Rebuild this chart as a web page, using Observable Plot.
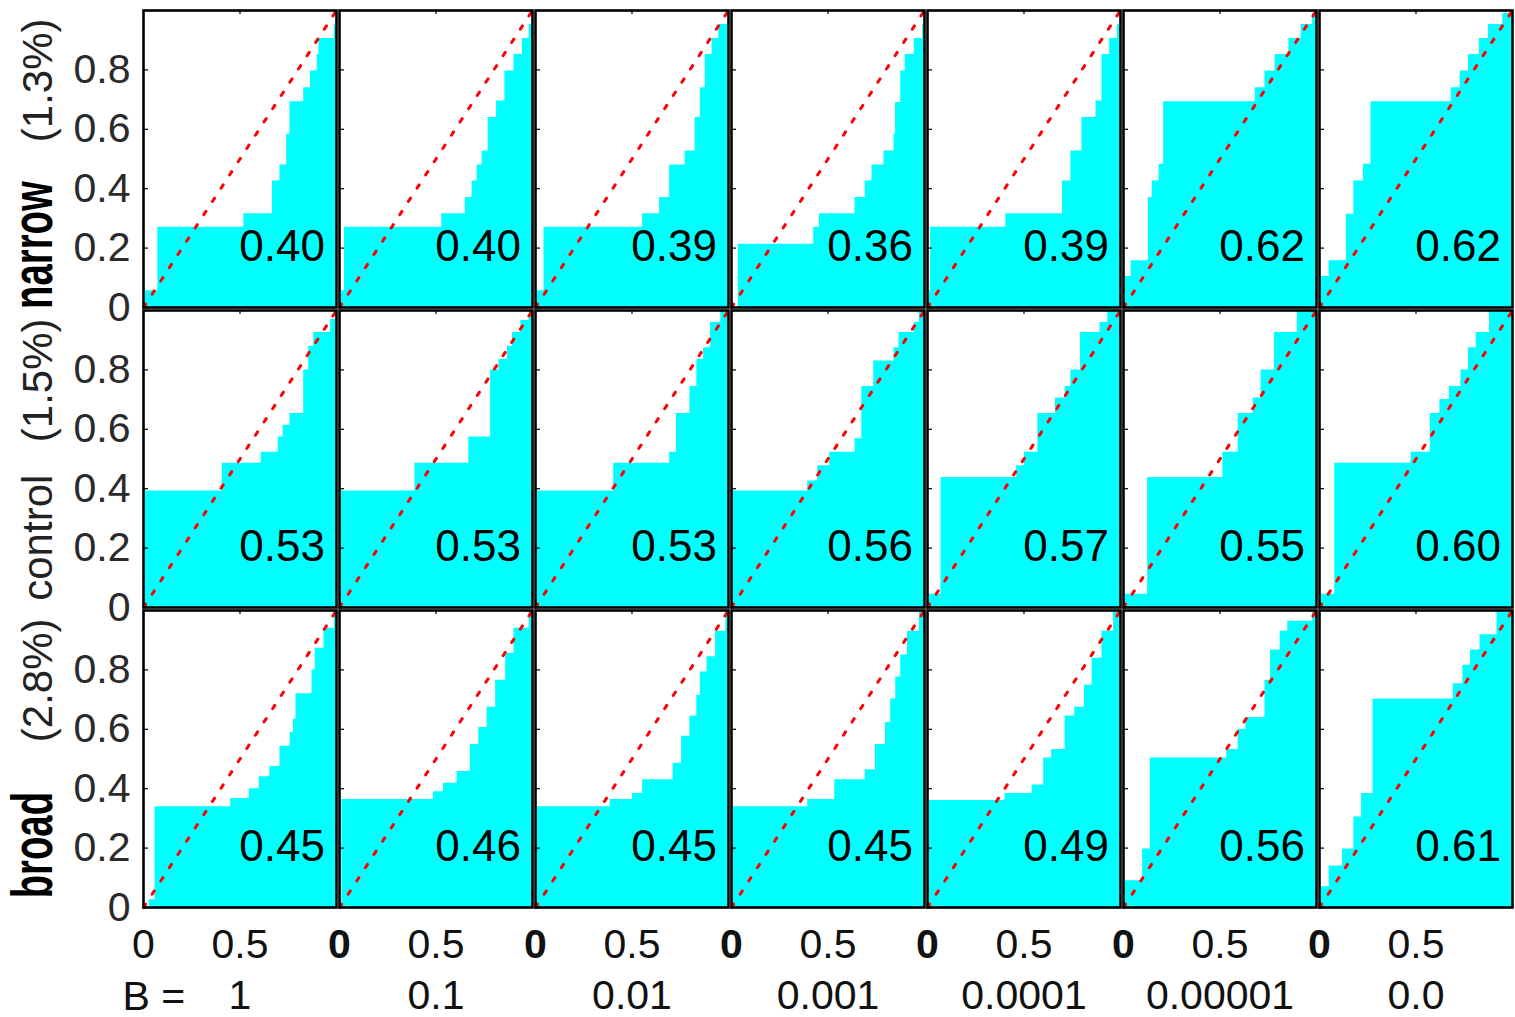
<!DOCTYPE html>
<html><head><meta charset="utf-8">
<script src="https://cdn.jsdelivr.net/npm/d3@7"></script>
<script src="https://cdn.jsdelivr.net/npm/@observablehq/plot@0.6"></script>
<style>body{margin:0;background:#fff} #chart svg{display:block}</style>
</head><body><div id="chart"></div>
<script>
// ---- data ----
const rowNames = ["narrow", "control", "broad"];
const rowPcts = ["(1.3%)", "(1.5%)", "(2.8%)"];
const bLabels = ["1", "0.1", "0.01", "0.001", "0.0001", "0.00001", "0.0"];
const aucNarrow = [0.40, 0.40, 0.39, 0.36, 0.39, 0.62, 0.62];
const aucControl = [0.53, 0.53, 0.53, 0.56, 0.57, 0.55, 0.60];
const aucBroad = [0.45, 0.46, 0.45, 0.45, 0.49, 0.56, 0.61];
const yTicks = [0, 0.2, 0.4, 0.6, 0.8];
const xTicks = [0, 0.5];
const diagonal = [[0, 0], [1, 1]];

// step curves: [x where step starts, y level]
const narrowCurves = [
  [[0,.056],[.074,.27],[.52,.316],[.668,.426],[.707,.48],[.742,.583],[.759,.693],[.83,.74],[.865,.796],[.90,.852],[.909,.906],[.988,.953],[1,1]],
  [[0,.056],[.026,.27],[.53,.316],[.652,.37],[.687,.426],[.713,.48],[.739,.527],[.77,.64],[.814,.695],[.857,.796],[.904,.852],[.948,.906],[.983,.953],[1,1]],
  [[0,.056],[.044,.27],[.555,.316],[.643,.37],[.695,.48],[.775,.527],[.827,.64],[.854,.74],[.88,.852],[.915,.906],[.95,.953],[1,1]],
  [[0,0],[.035,.213],[.426,.27],[.456,.316],[.64,.37],[.693,.426],[.728,.48],[.79,.527],[.842,.583],[.85,.69],[.877,.796],[.90,.852],[.947,.906],[.99,.953],[1,1]],
  [[0,.056],[.016,.27],[.406,.316],[.699,.426],[.743,.527],[.80,.64],[.873,.695],[.904,.852],[.944,.906],[.984,.953],[1,1]],
  [[0,.104],[.04,.157],[.129,.37],[.149,.426],[.184,.482],[.208,.693],[.683,.74],[.733,.796],[.786,.852],[.857,.906],[.921,.953],[.98,.99],[1,1]],
  [[0,.104],[.05,.157],[.139,.314],[.178,.426],[.228,.482],[.267,.693],[.683,.74],[.729,.796],[.772,.852],[.828,.906],[.875,.953],[.95,.99],[1,1]]
];
const controlCurves = [
  [[0,.392],[.408,.486],[.61,.523],[.698,.574],[.724,.614],[.759,.653],[.83,.80],[.856,.88],[.882,.926],[.97,.97],[1,1]],
  [[0,.392],[.391,.486],[.67,.574],[.783,.80],[.826,.835],[.87,.88],[.896,.926],[.94,.966],[.983,1],[1,1]],
  [[0,.392],[.405,.486],[.695,.523],[.73,.653],[.80,.744],[.836,.835],[.871,.875],[.907,.96],[.96,1],[1,1]],
  [[0,.392],[.395,.426],[.447,.477],[.509,.523],[.64,.568],[.675,.744],[.737,.83],[.842,.875],[.868,.926],[.947,.96],[.974,1],[1,1]],
  [[0,.045],[.07,.4375],[.462,.477],[.502,.523],[.572,.653],[.663,.705],[.713,.744],[.743,.80],[.793,.926],[.894,.96],[.934,1],[1,1]],
  [[0,.045],[.125,.4375],[.515,.523],[.594,.653],[.673,.705],[.713,.80],[.782,.926],[.901,1],[1,1]],
  [[0,.045],[.079,.486],[.475,.523],[.574,.653],[.624,.70],[.673,.744],[.733,.80],[.772,.875],[.812,.926],[.881,1],[1,1]]
];
const broadCurves = [
  [[0,0],[.03,.026],[.06,.339],[.452,.367],[.548,.40],[.60,.44],[.655,.475],[.707,.543],[.76,.589],[.777,.634],[.79,.72],[.873,.80],[.89,.873],[.935,.94],[.988,1],[1,1]],
  [[0,0],[.012,.364],[.487,.39],[.539,.418],[.609,.458],[.678,.549],[.722,.606],[.765,.674],[.809,.765],[.861,.856],[.904,.94],[.983,1],[1,1]],
  [[0,.339],[.387,.364],[.502,.384],[.555,.43],[.713,.486],[.757,.577],[.80,.645],[.836,.714],[.854,.793],[.889,.844],[.933,.93],[.986,1],[1,1]],
  [[0,.339],[.395,.364],[.535,.43],[.693,.464],[.746,.549],[.798,.623],[.825,.702],[.851,.776],[.877,.85],[.912,.93],[.974,1],[1,1]],
  [[0,.36],[.402,.384],[.542,.4125],[.602,.503],[.643,.532],[.713,.645],[.763,.674],[.813,.748],[.853,.839],[.904,.93],[.964,1],[1,1]],
  [[0,.09],[.099,.197],[.139,.503],[.535,.532],[.594,.60],[.634,.64],[.733,.765],[.762,.867],[.812,.93],[.851,.964],[.98,1],[1,1]],
  [[0,.07],[.05,.14],[.119,.197],[.178,.305],[.218,.384],[.277,.702],[.693,.753],[.743,.816],[.782,.867],[.832,.918],[.92,1],[1,1]]
];

// ---- tables built from the arrays ----
const curveSets = [narrowCurves, controlCurves, broadCurves];
const aucSets = [aucNarrow, aucControl, aucBroad];
const steps = [];
curveSets.forEach((set, r) => set.forEach((pts, c) => pts.forEach(([x, y]) =>
  steps.push({row: rowNames[r], B: bLabels[c], x, y}))));
const aucs = [];
aucSets.forEach((vals, r) => vals.forEach((v, c) => aucs.push({row: rowNames[r], B: bLabels[c], v})));
const labels = rowNames.map((n, i) => ({row: n, name: n, pct: rowPcts[i]}));
const boldNames = new Set(["narrow", "broad"]);

const font = "'Liberation Sans', Arial, sans-serif";
const firstCol = () => bLabels[0];

const chart = Plot.plot({
  width: 1515, height: 1017,
  marginLeft: 142, marginRight: 3, marginTop: 10, marginBottom: 110,
  style: {fontFamily: font, fontSize: "41px", color: "#000", background: "#fff", overflow: "visible"},
  x: {domain: [0, 1]},
  y: {domain: [0, 1]},
  fx: {domain: bLabels, paddingInner: 0.016, paddingOuter: 0},
  fy: {domain: rowNames, paddingInner: 0.01, paddingOuter: 0, axis: null},
  marks: [
    Plot.areaY(steps, {x: "x", y: "y", fx: "B", fy: "row", curve: "step-after", fill: "#00ffff"}),
    Plot.line(diagonal, {x: d => d[0], y: d => d[1], stroke: "#ff0000", strokeWidth: 3, strokeDasharray: "4,11.8"}),
    Plot.tickY(yTicks, {y: d => d, insetRight: 188, stroke: "#000", strokeWidth: 1.2}),
    Plot.tickX([0.5], {x: d => d, insetBottom: 293, stroke: "#000", strokeWidth: 1.2}),
    Plot.frame({stroke: "#000", strokeWidth: 2.6}),
    Plot.text(aucs, {fx: "B", fy: "row", x: () => 0.94, y: () => 0.155,
      text: d => d.v.toFixed(2), textAnchor: "end", lineAnchor: "bottom", fontSize: 44, fill: "#000"}),
    Plot.axisY({ticks: yTicks, tickFormat: d => d === 0 ? "0" : d.toFixed(1), tickSize: 0, tickPadding: 13,
      anchor: "left", label: null, fontSize: 41, fill: "#2a2a2a"}),
    Plot.axisX({ticks: xTicks, tickFormat: d => d === 0 ? "0" : String(d), tickSize: 0, tickPadding: 21,
      anchor: "bottom", label: null, fontSize: 41, fill: "#111"}),
    Plot.axisFx({anchor: "bottom", tickSize: 0, tickPadding: 72, label: null, fontSize: 41, fill: "#111"}),
    Plot.text(["B ="], {fx: firstCol, fy: () => rowNames[2], frameAnchor: "bottom-left", text: d => d,
      textAnchor: "start", lineAnchor: "bottom", dx: -21, dy: 102, fontSize: 41, fill: "#111"}),
    Plot.text(labels.filter(d => boldNames.has(d.name)), {fx: firstCol, fy: "row", frameAnchor: "left",
      y: () => 0.21, text: "name", rotate: -90, textAnchor: "middle", lineAnchor: "bottom",
      dx: -92, fontSize: 58, fontWeight: "bold", fill: "#000"}),
    Plot.text(labels.filter(d => !boldNames.has(d.name)), {fx: firstCol, fy: "row", frameAnchor: "left",
      y: () => 0.235, text: "name", rotate: -90, textAnchor: "middle", lineAnchor: "bottom",
      dx: -92, fontSize: 42, fill: "#222"}),
    Plot.text(labels, {fx: firstCol, fy: "row", frameAnchor: "left",
      y: () => 0.765, text: "pct", rotate: -90, textAnchor: "middle", lineAnchor: "bottom",
      dx: -92, fontSize: 42, fill: "#222"})
  ]
});
document.getElementById("chart").append(chart);

// condense the bold row names, embolden the overlapped "0" x labels at panel seams
d3.select(chart).selectAll("text").each(function () {
  const t = this.textContent;
  if (boldNames.has(t)) {
    const len = this.getComputedTextLength();
    this.setAttribute("textLength", (len * 0.66).toFixed(1));
    this.setAttribute("lengthAdjust", "spacingAndGlyphs");
  }
});
d3.select(chart).selectAll('g[aria-label="x-axis tick label"] text').each(function () {
  if (this.textContent === "0" && this.getBoundingClientRect().left > 200) {
    this.setAttribute("font-weight", "bold");
  }
});
</script>
</body></html>
